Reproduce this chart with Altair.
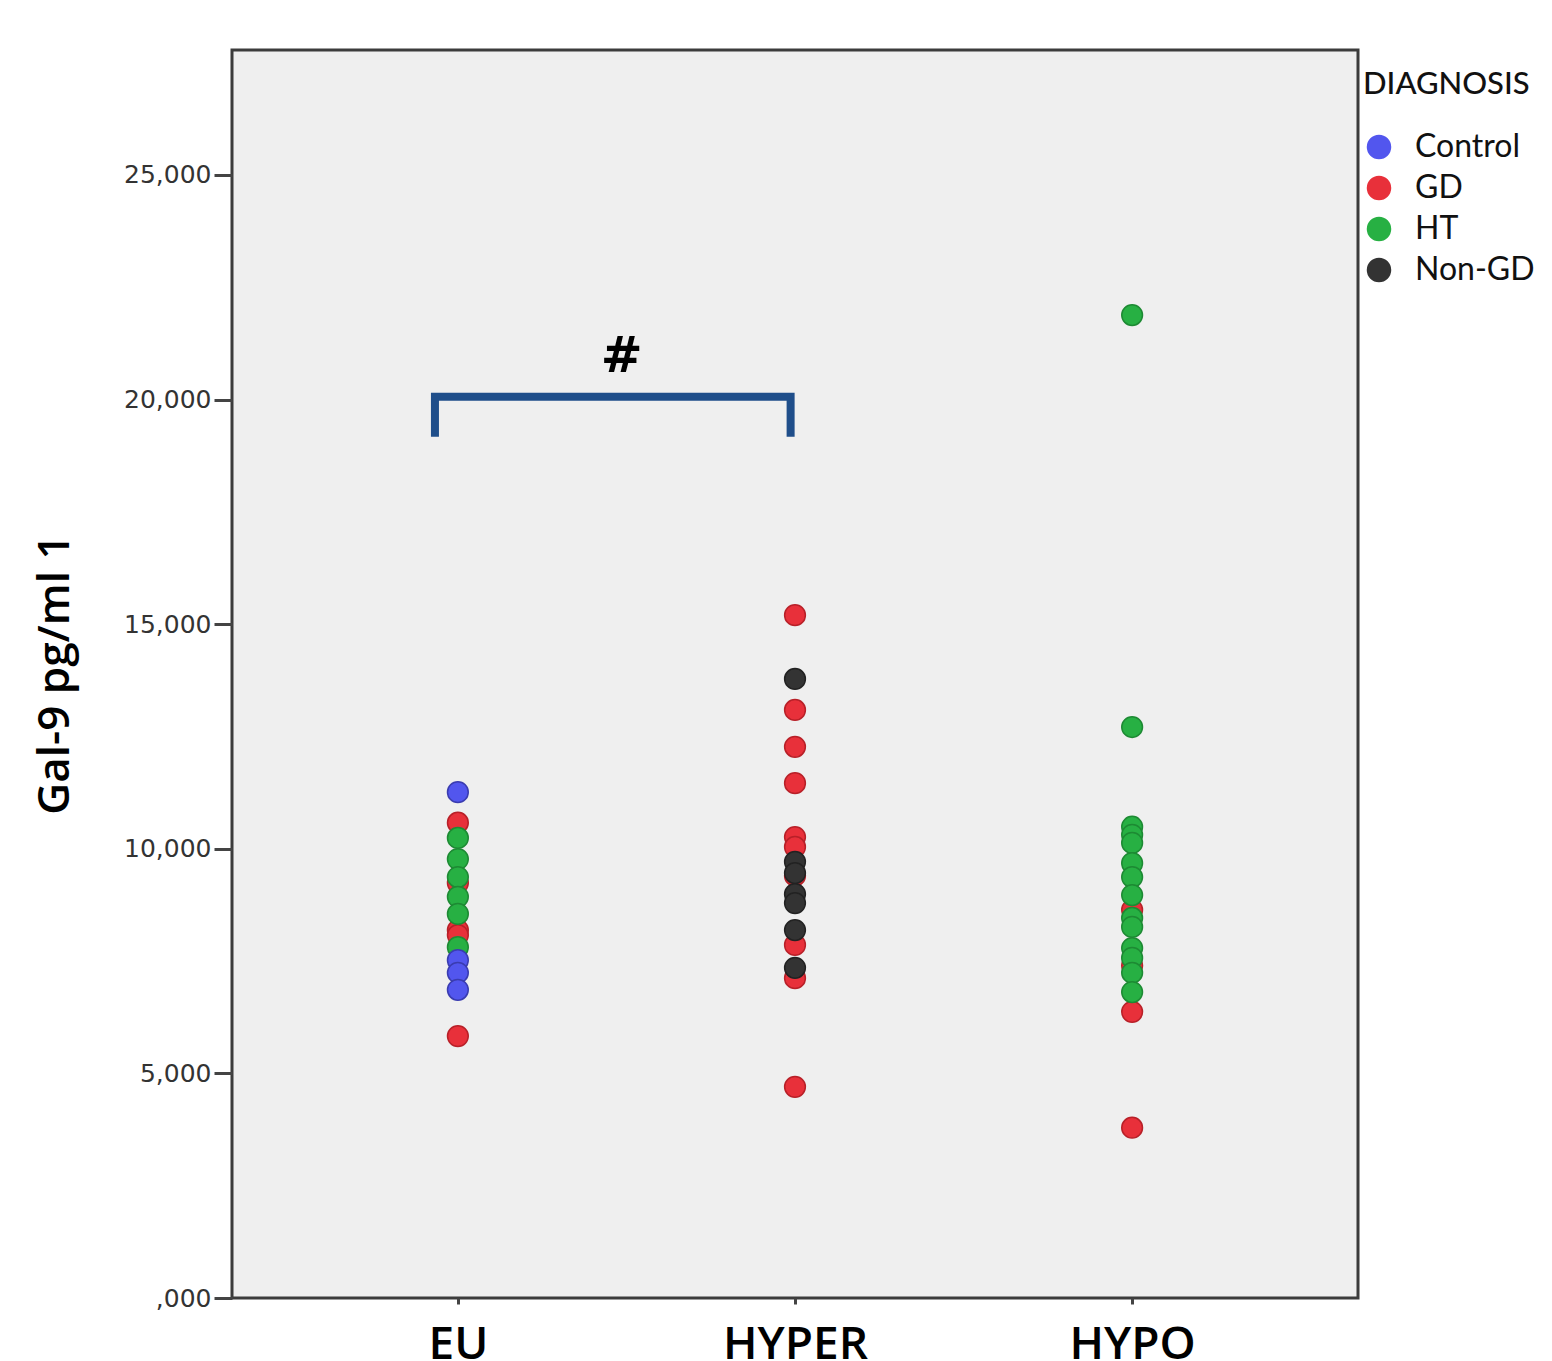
import altair as alt
import pandas as pd

groups = ["EU", "HYPER", "HYPO"]
diagnoses = ["Control", "GD", "HT", "Non-GD"]
fill_colors = ["#5256ee", "#e8303a", "#27b043", "#333333"]
edge_colors = ["#3a3cb0", "#b82028", "#1d8a33", "#222222"]

eu_values = [11260, 10580, 9240, 8190, 8080, 10240, 9770, 9370, 8930, 8550, 7810, 7520, 7240, 6860, 5830]
eu_diag = ["Control", "GD", "GD", "GD", "GD", "HT", "HT", "HT", "HT", "HT", "HT", "Control", "Control", "Control", "GD"]

hyper_values = [15200, 13090, 12270, 11460, 10260, 10040, 9400, 7860, 7120, 4700, 13780, 9710, 9460, 8990, 8790, 8190, 7350]
hyper_diag = ["GD", "GD", "GD", "GD", "GD", "GD", "GD", "GD", "GD", "GD", "Non-GD", "Non-GD", "Non-GD", "Non-GD", "Non-GD", "Non-GD", "Non-GD"]

hypo_values = [8640, 7400, 6370, 3790, 21880, 12710, 10490, 10310, 10130, 9680, 9370, 8970, 8460, 8260, 7790, 7570, 7240, 6810]
hypo_diag = ["GD", "GD", "GD", "GD", "HT", "HT", "HT", "HT", "HT", "HT", "HT", "HT", "HT", "HT", "HT", "HT", "HT", "HT"]

bracket_x = [-0.068, -0.068, 0.987, 0.987]
bracket_y = [19170, 20060, 20060, 19170]
mark_text = "#"
mark_x = 0.486
mark_y = 20950

rows = []
for gi, (vals, diags) in enumerate([(eu_values, eu_diag), (hyper_values, hyper_diag), (hypo_values, hypo_diag)]):
    for v, d in zip(vals, diags):
        rows.append({"g": gi, "value": v, "DIAGNOSIS": d})
df = pd.DataFrame(rows)

bracket_df = pd.DataFrame({"x": bracket_x, "y": bracket_y, "o": list(range(len(bracket_x)))})
text_df = pd.DataFrame({"x": [mark_x], "y": [mark_y], "t": [mark_text]})

label_expr = " : ".join(
    [f"datum.value == {i} ? '{g}'" for i, g in enumerate(groups[:-1])] + [f"'{groups[-1]}'"]
)

xscale = alt.Scale(domain=[-0.67, 2.67], nice=False, zero=False)
yscale = alt.Scale(domain=[0, 27780], nice=False, zero=True)

xaxis = alt.Axis(
    values=list(range(len(groups))), labelExpr=label_expr, title=None, grid=False,
    labelFont="Open Sans", labelFontWeight=600, labelFontSize=46, labelColor="#000000",
    labelPadding=18, labelBaseline="top", tickSize=6, tickWidth=3, tickColor="#444444",
    domain=False,
)
yaxis = alt.Axis(
    values=[0, 5000, 10000, 15000, 20000, 25000],
    labelExpr="datum.value == 0 ? ',000' : format(datum.value, ',')",
    title="Gal-9 pg/ml 1", grid=False,
    labelFont="DejaVu Sans", labelFontSize=25, labelColor="#333333", labelPadding=3,
    tickSize=18, tickWidth=3, tickColor="#444444", domain=False,
    titleFont="Open Sans", titleFontWeight=600, titleFontSize=44, titleColor="#000000",
    titleX=-177, titleY=624, titleAngle=270, titleAlign="center", titleBaseline="middle",
)

points = alt.Chart(df).mark_point(filled=True, size=430, opacity=1, strokeWidth=1.5).encode(
    x=alt.X("g:Q", scale=xscale, axis=xaxis),
    y=alt.Y("value:Q", scale=yscale, axis=yaxis),
    fill=alt.Fill("DIAGNOSIS:N", scale=alt.Scale(domain=diagnoses, range=fill_colors),
                  legend=alt.Legend(
                      orient="none", legendX=1131, legendY=20, title="DIAGNOSIS",
                      titleFont="Lato", titleFontSize=31, titleFontWeight=500, titleColor="#111111",
                      titlePadding=30,
                      labelFont="Lato", labelFontSize=32, labelColor="#111111", labelOffset=20,
                      symbolType="circle", symbolSize=600, symbolStrokeWidth=0,
                      rowPadding=9, offset=0,
                  )),
    stroke=alt.Stroke("DIAGNOSIS:N", scale=alt.Scale(domain=diagnoses, range=edge_colors), legend=None),
)

bracket = alt.Chart(bracket_df).mark_line(color="#1f4e8a", strokeWidth=8, strokeCap="butt", strokeJoin="miter").encode(
    x=alt.X("x:Q", scale=xscale),
    y=alt.Y("y:Q", scale=yscale),
    order="o:O",
)

text = alt.Chart(text_df).mark_text(font="DejaVu Sans", fontWeight="bold", fontSize=50, color="#000000",
                                    baseline="middle", align="center").encode(
    x=alt.X("x:Q", scale=xscale),
    y=alt.Y("y:Q", scale=yscale),
    text="t:N",
)

chart = alt.layer(points, bracket, text).properties(
    width=1126, height=1248,
    padding={"left": 232, "top": 50, "right": 194, "bottom": 63},
    autosize=alt.AutoSizeParams(type="none"),
).configure(
    background="#ffffff",
    view=alt.ViewConfig(fill="#efefef", stroke="#3c3c3c", strokeWidth=3),
)

chart.save("out.html", embed_options={"renderer": "svg", "actions": False})
